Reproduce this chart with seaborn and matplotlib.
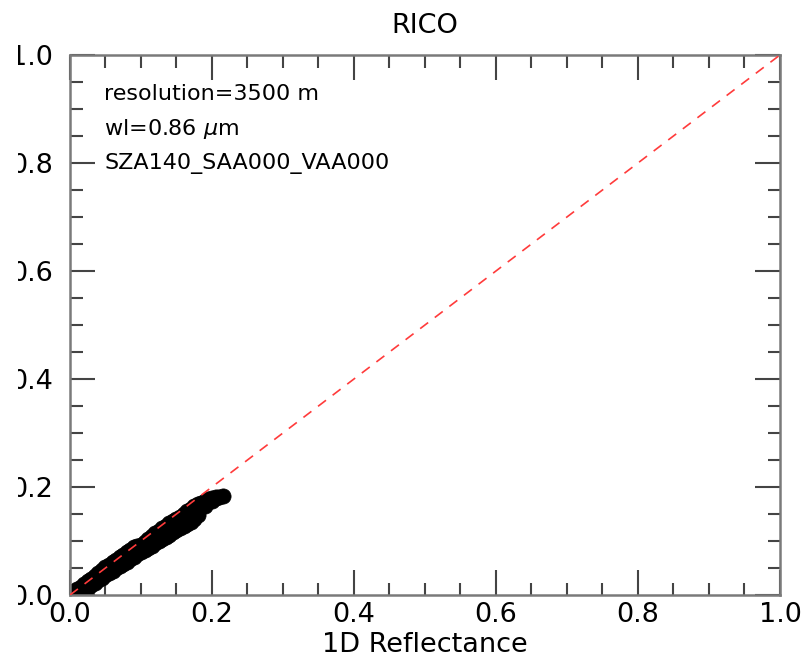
import numpy as np
import pandas as pd
import matplotlib
matplotlib.use("Agg")
import matplotlib.pyplot as plt
import seaborn as sns
from matplotlib.ticker import MultipleLocator, FormatStrFormatter
from matplotlib.patches import Rectangle

# values (1D vs 3D reflectance), band of points
upper_1d = [0.00, 0.01, 0.02, 0.03, 0.04, 0.05, 0.06, 0.07, 0.08, 0.09, 0.10, 0.11,
            0.12, 0.13, 0.14, 0.15, 0.16, 0.17, 0.18, 0.19, 0.20, 0.21, 0.215]
upper_3d = [0.003, 0.011, 0.020, 0.030, 0.041, 0.051, 0.061, 0.070, 0.079, 0.088, 0.093, 0.104,
            0.114, 0.124, 0.133, 0.140, 0.150, 0.160, 0.168, 0.174, 0.179, 0.182, 0.184]
upper_half_1d = [0.005, 0.015, 0.025, 0.035, 0.045, 0.055, 0.065, 0.075, 0.085, 0.095, 0.105,
                 0.115, 0.125, 0.135, 0.145, 0.155, 0.165, 0.175, 0.185, 0.195, 0.205]
upper_half_3d = [0.007, 0.015, 0.025, 0.035, 0.046, 0.056, 0.065, 0.074, 0.084, 0.091, 0.099,
                 0.109, 0.119, 0.128, 0.137, 0.145, 0.155, 0.164, 0.171, 0.177, 0.181]
mid_1d = [0.02, 0.03, 0.04, 0.05, 0.06, 0.07, 0.08, 0.09, 0.10, 0.11, 0.12, 0.13,
          0.14, 0.15, 0.16, 0.17, 0.18]
mid_3d = [0.014, 0.023, 0.032, 0.042, 0.051, 0.060, 0.068, 0.077, 0.085, 0.094, 0.103, 0.112,
          0.120, 0.128, 0.137, 0.146, 0.157]
half_1d = [0.005, 0.015, 0.025, 0.035, 0.045, 0.055, 0.065, 0.075, 0.085, 0.095, 0.105,
           0.115, 0.125, 0.135, 0.145, 0.155, 0.165, 0.175, 0.185, 0.195, 0.205]
half_3d = [0.004, 0.011, 0.019, 0.028, 0.037, 0.046, 0.055, 0.064, 0.073, 0.081, 0.091,
           0.100, 0.109, 0.117, 0.126, 0.134, 0.144, 0.152, 0.168, 0.175, 0.180]
lower_half_1d = [0.015, 0.025, 0.035, 0.045, 0.055, 0.065, 0.075, 0.085, 0.095, 0.105,
                 0.115, 0.125, 0.135, 0.145, 0.155, 0.165]
lower_half_3d = [0.005, 0.013, 0.022, 0.032, 0.041, 0.050, 0.058, 0.066, 0.075, 0.083,
                 0.091, 0.100, 0.108, 0.116, 0.124, 0.132]
lower_1d = [0.01, 0.02, 0.03, 0.04, 0.05, 0.06, 0.07, 0.08, 0.09, 0.10, 0.11, 0.12,
            0.13, 0.14, 0.15, 0.16, 0.17, 0.175, 0.18, 0.19, 0.20]
lower_3d = [0.002, 0.009, 0.018, 0.027, 0.037, 0.045, 0.054, 0.062, 0.071, 0.079, 0.087, 0.096,
            0.104, 0.112, 0.120, 0.128, 0.136, 0.140, 0.148, 0.165, 0.174]
diag = [0.0, 1.0]

info_lines = ["resolution=3500 m", r"wl=0.86 $\mu$m", "SZA140_SAA000_VAA000"]

df = pd.DataFrame({
    "r1d": upper_1d + upper_half_1d + mid_1d + half_1d + lower_half_1d + lower_1d,
    "r3d": upper_3d + upper_half_3d + mid_3d + half_3d + lower_half_3d + lower_3d,
})

sns.set_style("ticks")
plt.rcParams["font.family"] = ["DejaVu Sans"]
plt.rcParams["mathtext.fontset"] = "dejavusans"
plt.rcParams["text.color"] = "black"
plt.rcParams["axes.labelcolor"] = "black"

fig = plt.figure(figsize=(8.06, 6.6), dpi=100)
ax = fig.add_axes([0.0868, 0.0985, 0.9677 - 0.0868, 0.9167 - 0.0985])

sns.scatterplot(data=df, x="r1d", y="r3d", color="black", s=120,
                edgecolor="black", linewidth=0.5, ax=ax, zorder=2)
ax.plot(diag, diag, color="#ff3b3b", lw=1.2, dashes=(6, 5), zorder=3)

ax.set_xlim(0, 1)
ax.set_ylim(0, 1)
ax.xaxis.set_major_locator(MultipleLocator(0.2))
ax.yaxis.set_major_locator(MultipleLocator(0.2))
ax.xaxis.set_minor_locator(MultipleLocator(0.05))
ax.yaxis.set_minor_locator(MultipleLocator(0.05))
ax.xaxis.set_major_formatter(FormatStrFormatter("%.1f"))
ax.yaxis.set_major_formatter(FormatStrFormatter("%.1f"))

ax.tick_params(which="both", direction="in", top=True, right=True,
               color="#444444", labelsize=19.5, labelcolor="black")
ax.tick_params(which="major", length=18, width=1.5)
ax.tick_params(which="minor", length=9, width=1.5)
ax.tick_params(axis="x", which="major", pad=5)
ax.tick_params(axis="y", which="major", pad=12)
for sp in ax.spines.values():
    sp.set_color("#7a7a7a")
    sp.set_linewidth(1.8)

ax.set_xlabel("1D Reflectance", fontsize=19.5, labelpad=3)
ax.set_ylabel("")
ax.set_title("RICO", fontsize=19.5, pad=16, color="black")

ys = [0.9165, 0.8516, 0.7885]
for txt, yy in zip(info_lines, ys):
    ax.text(0.048, yy, txt, transform=ax.transAxes, fontsize=16,
            va="baseline", ha="left", color="black")

# the reference image is cut off at its left edge
fig.patches.append(Rectangle((0, 0), 18 / 806, 1, transform=fig.transFigure,
                             facecolor="white", edgecolor="none", zorder=10))

fig.savefig("out.png", dpi=100)
